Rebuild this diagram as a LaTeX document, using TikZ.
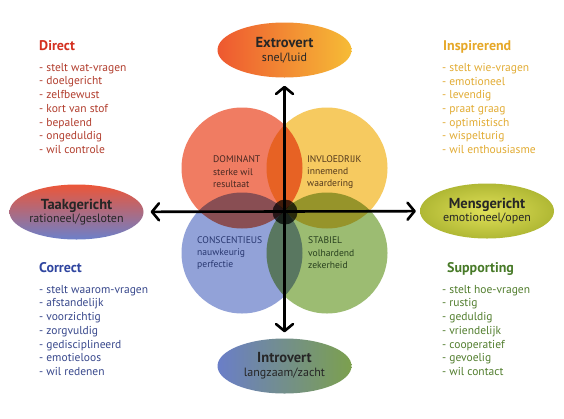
\documentclass[tikz,border=0pt]{standalone}
\usepackage{fontspec}
\setmainfont{PT Sans}
\usepackage{tikz}
\usetikzlibrary{arrows.meta,positioning,shapes.geometric}
\definecolor{dred}{RGB}{240,124,98}
\definecolor{dyellow}{RGB}{246,202,96}
\definecolor{dblue}{RGB}{146,162,216}
\definecolor{dgreen}{RGB}{156,188,114}
\definecolor{tred}{RGB}{212,48,32}
\definecolor{lred}{RGB}{178,62,46}
\definecolor{tyellow}{RGB}{230,168,40}
\definecolor{lyellow}{RGB}{226,172,52}
\definecolor{tblue}{RGB}{48,70,160}
\definecolor{lblue}{RGB}{56,72,140}
\definecolor{tgreen}{RGB}{72,122,40}
\definecolor{lgreen}{RGB}{82,126,46}

\begin{document}
\begin{tikzpicture}[x=1pt,y=-1pt,>={Straight Barb[length=7pt,width=17pt,line join=round,line cap=round]},font=\fontsize{11.5}{13.7}\selectfont]
\tikzstyle{pole}=[ellipse, minimum width=134pt, minimum height=55pt, inner sep=0pt, align=center, text=black!85]
\tikzstyle{kwad}=[circle, minimum size=121pt, inner sep=0pt]
\tikzstyle{head}=[font=\fontsize{14}{15}\selectfont\bfseries, inner sep=0pt, anchor=base west]
\tikzstyle{lijst}=[align=left, inner sep=0pt]
\tikzstyle{binnen}=[align=left, inner sep=0pt, anchor=west, font=\fontsize{9.6}{12.4}\selectfont]
\tikzstyle{asline}=[<->, line width=2.6pt, line cap=round]
\newcommand{\ptitle}[1]{{\fontsize{14.5}{15}\selectfont\bfseries #1}}

\useasboundingbox[fill=white] (0,0) rectangle (564,418);

% four quadrants
\begin{scope}[blend group=multiply]
\node[kwad, fill=dred] (dom) at (242,168) {};
\node[kwad, fill=dyellow] (inv) at (327,168) {};
\node[kwad, fill=dblue] (con) at (242,253) {};
\node[kwad, fill=dgreen] (sta) at (327,253) {};
\end{scope}

% poles
\node[pole, left color={rgb,255:red,238;green,88;blue,48}, right color={rgb,255:red,246;green,188;blue,54}] (extro) at (284.5,50) {\ptitle{Extrovert}\\\fontsize{12}{13}\selectfont snel/luid};
\node[pole, left color={rgb,255:red,106;green,126;blue,200}, right color={rgb,255:red,124;green,160;blue,78}] (intro) at (284.5,366) {\ptitle{Introvert}\\\fontsize{12}{13}\selectfont langzaam/zacht};
\node[pole, top color={rgb,255:red,236;green,86;blue,56}, bottom color={rgb,255:red,108;green,128;blue,202}] (taak) at (76.5,212) {\ptitle{Taakgericht}\\\fontsize{12}{13}\selectfont rationeel/gesloten};
\node[pole, inner color={rgb,255:red,224;green,224;blue,88}, outer color={rgb,255:red,176;green,184;blue,52}] (mens) at (487,211) {\ptitle{Mensgericht}\\\fontsize{12}{13}\selectfont emotioneel/open};

% axes
\draw[asline, shorten <=8pt, shorten >=6pt] (extro) -- (intro);
\draw[asline, shorten <=7pt, shorten >=4pt] (taak) -- (mens);
\node[circle, fill=black, opacity=0.72, minimum size=25pt, inner sep=0pt] (mid) at (285,212) {};

% texts in the circles
\node[binnen, text={rgb,255:red,72;green,40;blue,34}] (domtxt) at (213,172) {DOMINANT\\sterke wil\\resultaat};
\node[binnen, text={rgb,255:red,82;green,56;blue,28}] (invtxt) at (307,172) {INVLOEDRIJK\\innemend\\waardering};
\node[binnen, text={rgb,255:red,40;green,55;blue,112}] (contxt) at (197,253) {CONSCENTIEUS\\nauwkeurig\\perfectie};
\node[binnen, text={rgb,255:red,40;green,64;blue,30}] (statxt) at (308,253) {STABIEL\\volhardend\\zekerheid};

% the four styles
\node[head, text=tred] (dtitle) at (39,50) {Direct};
\node[lijst, text=lred, below=13pt of dtitle.base west, anchor=north west] (dlist) {- stelt wat-vragen\\- doelgericht\\- zelfbewust\\- kort van stof\\- bepalend\\- ongeduldig\\- wil controle};

\node[head, text=tyellow] (ititle) at (443,50) {Inspirerend};
\node[lijst, text=lyellow, below=13pt of ititle.base west, anchor=north west, xshift=-1pt] (ilist) {- stelt wie-vragen\\- emotioneel\\- levendig\\- praat graag\\- optimistisch\\- wispelturig\\- wil enthousiasme};

\node[head, text=tblue] (ctitle) at (39,272) {Correct};
\node[lijst, text=lblue, below=13pt of ctitle.base west, anchor=north west] (clist) {- stelt waarom-vragen\\- afstandelijk\\- voorzichtig\\- zorgvuldig\\- gedisciplineerd\\- emotieloos\\- wil redenen};

\node[head, text=tgreen] (stitle) at (447,272) {Supporting};
\node[lijst, text=lgreen, below=13pt of stitle.base west, anchor=north west, xshift=-5pt] (slist) {- stelt hoe-vragen\\- rustig\\- geduldig\\- vriendelijk\\- cooperatief\\- gevoelig\\- wil contact};
\end{tikzpicture}
\end{document}
